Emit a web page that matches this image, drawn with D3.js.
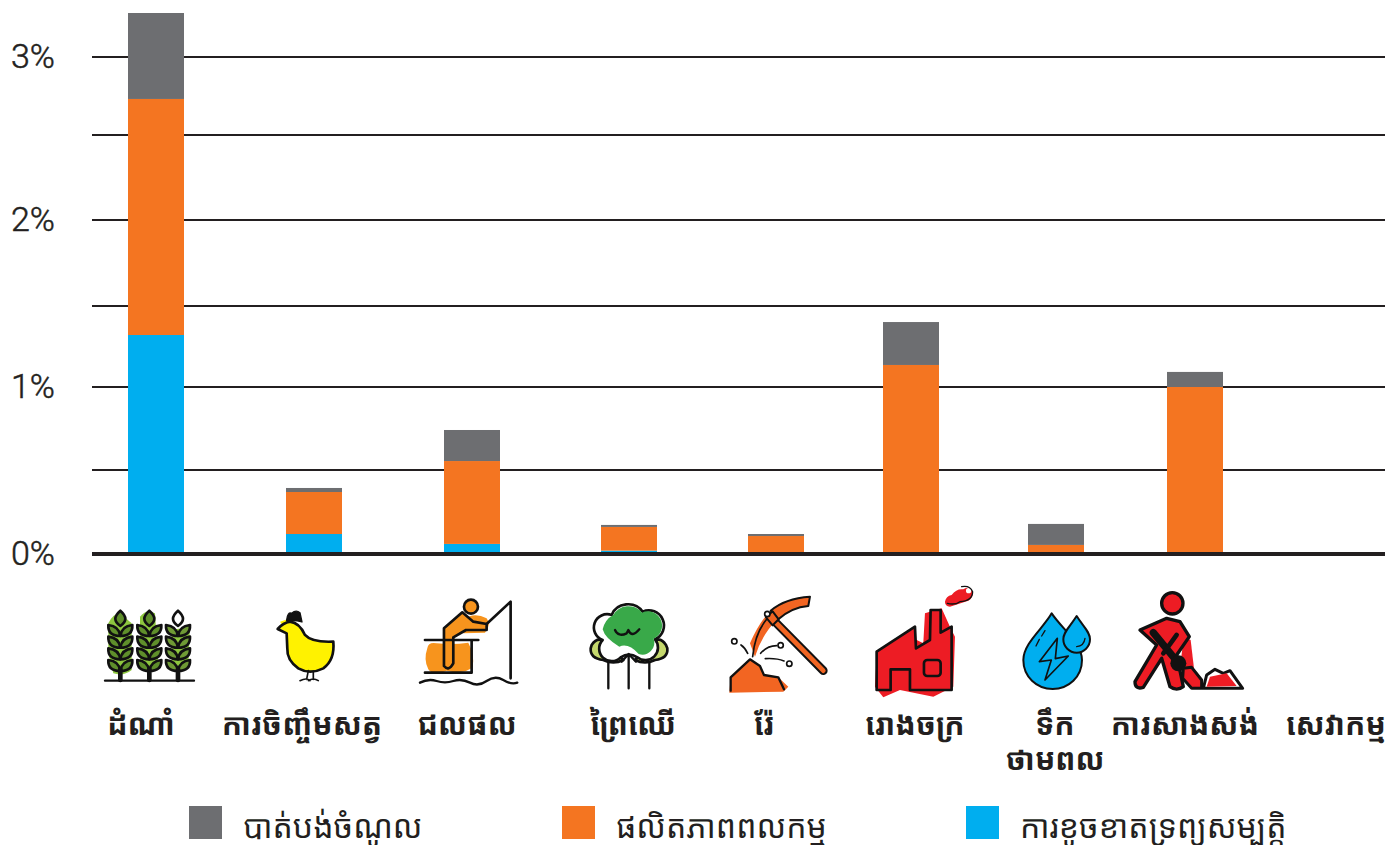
<!DOCTYPE html>
<html>
<head>
<meta charset="utf-8">
<title>Chart</title>
<script src="https://cdn.jsdelivr.net/npm/d3@7"></script>
<style>
html, body { margin: 0; padding: 0; background: #fff; overflow: hidden; }
svg { display: block; }
.khmer { font-family: "Noto Sans Khmer", "Khmer OS", "Noto Sans", "DejaVu Sans", sans-serif; fill: #231f20; }
</style>
</head>
<body>
<svg id="chart" width="1385" height="845"></svg>
<script>
// Data
var categories = ['ដំណាំ', 'ការចិញ្ចឹមសត្វ', 'ជលផល', 'ព្រៃឈើ', 'រ៉ែ', 'រោងចក្រ', 'ទឹកថាមពល', 'ការសាងសង់', 'សេវាកម្ម'];
var damage = [1.321, 0.119, 0.06, 0.02, 0, 0, 0, 0, 0];
var productivity = [1.41, 0.25, 0.494, 0.141, 0.107, 1.136, 0.054, 1.0, 0];
var income = [0.551, 0.024, 0.187, 0.012, 0.012, 0.265, 0.125, 0.093, 0];
var gridTicks = [0, 0.5, 1, 1.5, 2, 2.5, 3];
var tickLabels = [0, 1, 2, 3];
var seriesNames = ['បាត់បង់ចំណូល', 'ផលិតភាពពលកម្ម', 'ការខូចខាតទ្រព្យសម្បត្តិ'];
var categoryLines = [['ដំណាំ'], ['ការចិញ្ចឹមសត្វ'], ['ជលផល'], ['ព្រៃឈើ'], ['រ៉ែ'], ['រោងចក្រ'], ['ទឹក', 'ថាមពល'], ['ការសាងសង់'], ['សេវាកម្ម']];

var svg = d3.select('#chart');
var ink = '#231f20';

// Columns are not evenly spaced in the original, so an ordinal scale holds the centres
var x = d3.scaleOrdinal().domain(categories).range([156, 314, 472, 629, 776, 911, 1056, 1195, 1336]);
var labelX = d3.scaleOrdinal().domain(categories).range([141, 302, 467, 633, 764, 915, 1055, 1185, 1336]);
// Gridlines are slightly uneven too
var y = d3.scaleLinear().domain(gridTicks).range([554, 470, 387, 306, 220, 135, 57]);
var color = d3.scaleOrdinal().domain(['income', 'productivity', 'damage']).range(['#6d6e71', '#f47521', '#00aeef']);
var barWidth = 56;

// Grid
svg.append('g').selectAll('line')
    .data(gridTicks.filter(d => d > 0))
    .enter().append('line')
    .attr('x1', 92).attr('x2', 1385)
    .attr('y1', d => y(d)).attr('y2', d => y(d))
    .style('stroke', ink).style('stroke-width', 2);

// Stacked bars
var rows = categories.map((c, i) => ({ category: c, damage: damage[i], productivity: productivity[i], income: income[i] }));
var stacked = d3.stack().keys(['damage', 'productivity', 'income'])(rows);

svg.append('g').selectAll('g')
    .data(stacked)
    .enter().append('g')
    .attr('fill', d => color(d.key))
    .selectAll('rect')
    .data(d => d)
    .enter().append('rect')
    .attr('x', d => x(d.data.category) - barWidth / 2)
    .attr('width', barWidth)
    .attr('y', d => y(d[1]))
    .attr('height', d => y(d[0]) - y(d[1]));

// Baseline
svg.append('line')
    .attr('x1', 92).attr('x2', 1385)
    .attr('y1', y(0)).attr('y2', y(0))
    .style('stroke', ink).style('stroke-width', 4);

// Y labels
svg.append('g').selectAll('text')
    .data(tickLabels)
    .enter().append('text')
    .attr('x', 11)
    .attr('y', d => y(d) - 1)
    .attr('dy', '.36em')
    .style('font-family', 'Roboto, sans-serif')
    .style('font-weight', 300)
    .style('font-size', '34px')
    .style('fill', ink)
    .style('stroke', ink)
    .style('stroke-width', 0.5)
    .text(d => d + '%');

// Category labels
var catText = svg.append('g').selectAll('text')
    .data(categories)
    .enter().append('text')
    .attr('class', 'khmer')
    .attr('text-anchor', 'middle')
    .attr('y', 735)
    .style('font-size', '30px')
    .style('font-weight', 700);
catText.selectAll('tspan')
    .data((d, i) => categoryLines[i].map(t => ({ t: t, c: d })))
    .enter().append('tspan')
    .attr('x', d => labelX(d.c))
    .attr('dy', (d, i) => i ? 35 : 0)
    .text(d => d.t);

// Legend
var legendX = [189, 562, 966];
var legendColors = ['income', 'productivity', 'damage'];
var legend = svg.append('g').selectAll('g')
    .data(seriesNames)
    .enter().append('g')
    .attr('transform', (d, i) => 'translate(' + legendX[i] + ',806)');
legend.append('rect')
    .attr('width', 33).attr('height', 33)
    .attr('fill', (d, i) => color(legendColors[i]));
legend.append('text')
    .attr('class', 'khmer')
    .attr('x', 54).attr('y', 32)
    .style('font-size', '32px')
    .text(d => d);

// Icons, traced at 3x so the coordinates are in crop pixels
function iconGroup(ox, oy) {
    return svg.append('g')
        .attr('transform', 'translate(' + ox + ',' + oy + ') scale(0.3333)')
        .style('stroke-linejoin', 'round')
        .style('stroke-linecap', 'round');
}
function shape(g, d, fill, sw) {
    return g.append('path').attr('d', d)
        .style('fill', fill || 'none')
        .style('stroke', sw === 0 ? 'none' : '#111')
        .style('stroke-width', sw === undefined ? 8 : sw);
}

// wheat
var left = iconGroup(90, 580);
shape(left, 'M55,130 Q70,100 90,100 L125,130 L125,270 Q100,290 70,280 L55,220Z', '#8dc63f', 0);
shape(left, 'M150,110 Q170,85 195,100 L205,260 L150,270Z', '#8dc63f', 0);
shape(left, 'M245,150 L300,140 L295,260 Q270,280 245,270Z', '#8dc63f', 0);
[91, 178, 264].forEach(function (cx, k) {
    var leaf = k === 2 ? '#6f9a35' : '#5f8f2b';
    shape(left, 'M' + cx + ',92 Q' + (cx + 30) + ',118 ' + cx + ',138 Q' + (cx - 30) + ',118 ' + cx + ',92Z', k === 2 ? '#fff' : leaf);
    [150, 185, 220, 255].forEach(function (ly) {
        shape(left, 'M' + cx + ',' + (ly + 18) + ' Q' + (cx - 4) + ',' + (ly - 12) + ' ' + (cx - 36) + ',' + (ly - 15) + ' Q' + (cx - 38) + ',' + (ly + 18) + ' ' + cx + ',' + (ly + 18) + 'Z', leaf);
        shape(left, 'M' + cx + ',' + (ly + 18) + ' Q' + (cx + 4) + ',' + (ly - 12) + ' ' + (cx + 36) + ',' + (ly - 15) + ' Q' + (cx + 38) + ',' + (ly + 18) + ' ' + cx + ',' + (ly + 18) + 'Z', leaf);
    });
    shape(left, 'M' + cx + ',268 V300', null, 14);
});
shape(left, 'M45,302 H312', null, 7);

// chicken
shape(left, 'M570,125 L592,118 L592,155 Z', '#fff200', 0);
shape(left, 'M590,120 Q593,95 605,100 Q618,88 630,98 L636,126 Q615,118 590,122Z', '#111', 4);
shape(left, 'M563,147 Q580,128 600,125 Q628,128 645,165 Q665,188 730,185 Q735,240 700,265 Q660,285 625,265 Q590,240 592,205 L590,160 Z', '#fff200');
shape(left, 'M655,272 L650,298 M670,274 L670,298 M630,302 Q650,292 660,302 M655,302 Q670,292 685,302', null, 5);

// fisher
shape(left, 'M1012,205 Q1015,185 1040,190 Q1090,195 1135,188 Q1155,225 1148,262 Q1120,285 1070,272 Q1030,290 1015,268 Q1000,240 1012,205Z', '#f7941d', 0);
shape(left, 'M1120,120 Q1150,95 1190,115 Q1205,135 1185,158 L1120,160Z', '#f7941d', 0);
left.append('circle').attr('cx', 1143).attr('cy', 80).attr('r', 21).style('fill', '#f7941d').style('stroke', '#111').style('stroke-width', 8);
shape(left, 'M1062,258 L1062,145 L1117,97 L1150,125 L1190,132 L1190,150 L1128,150 L1090,172 L1090,250 Q1076,275 1062,258Z', '#f7941d');
shape(left, 'M1005,180 H1165 M1005,278 H1145 V180', null, 8);
shape(left, 'M1190,132 L1262,65 V295', null, 8);
shape(left, 'M990,308 Q1015,295 1040,303 T1090,303 T1140,308 T1190,303 T1240,300 T1282,308', null, 7);

// tree
var mid = iconGroup(560, 580);
shape(mid, 'M95,195 Q110,172 130,182 L190,240 Q160,255 130,240 Q90,235 92,205Z', '#c5d86d');
shape(mid, 'M318,195 Q303,172 285,182 L225,240 Q255,255 285,240 Q325,235 322,205Z', '#c5d86d');
shape(mid, 'M155,105 A52,48 0 0 1 248,95 A42,42 0 0 1 285,178 A38,38 0 0 1 232,232 Q207,215 182,232 A36,36 0 0 1 128,180 A34,34 0 0 1 155,105Z', '#fff');
shape(mid, 'M160,105 A50,46 0 0 1 246,98 A40,40 0 0 1 281,176 A36,36 0 0 1 236,222 Q205,188 178,200 Q135,175 128,148 Q135,118 160,105Z', '#39a949', 0);
shape(mid, 'M165,150 Q175,172 200,160 Q205,150 205,150 Q215,175 238,148', null, 7);
shape(mid, 'M145,248 V325 M206,225 V325 M268,248 V325 M185,245 L206,222 L228,245', null, 7);

// mining
shape(mid, 'M570,190 Q600,120 635,90 L650,120 Q605,165 585,230Z', '#f26522', 0);
shape(mid, 'M508,338 L512,292 L570,238 L600,260 L612,285 L655,292 L685,320 L670,335Z', '#f26522', 0);
shape(mid, 'M512,332 V292 L570,238 L600,258 L612,285 L655,292 L672,328', null, 7);
shape(mid, 'M578,230 Q585,160 620,118', null, 5);
shape(mid, 'M640,120 L790,272', null, 26);
shape(mid, 'M640,120 L790,272', null, 0).style('stroke', '#f26522').style('stroke-width', 14);
shape(mid, 'M632,92 Q675,55 750,50 L745,78 Q695,82 655,118Z', '#f26522', 6);
shape(mid, 'M618,112 L638,94 L656,118 L638,136Z', '#f26522', 6);
mid.append('circle').attr('cx', 622).attr('cy', 102).attr('r', 8).style('fill', '#fff').style('stroke', '#111').style('stroke-width', 5);
[[523, 184], [662, 196], [688, 251]].forEach(function (c) {
    mid.append('circle').attr('cx', c[0]).attr('cy', c[1]).attr('r', 8).style('fill', '#fff').style('stroke', '#111').style('stroke-width', 5);
});
shape(mid, 'M543,195 Q555,203 563,220 M602,220 Q620,198 650,197 M616,236 Q650,234 672,243', null, 5);

// factory
shape(mid, 'M1095,100 L1145,85 L1170,140 L1185,170 L1180,320 L1120,350 L1020,330 L970,352 L945,320 L950,220 L1040,165 L1090,190Z', '#ed1c24', 0);
shape(mid, 'M950,330 V215 L1065,140 L1068,205 L1110,180 L1112,90 L1142,90 L1142,158 L1175,140 V330 H1050 V268 H992 V330Z', '#ed1c24');
mid.append('rect').attr('x', 1092).attr('y', 240).attr('width', 50).attr('height', 48).attr('rx', 10).style('fill', '#ed1c24').style('stroke', '#111').style('stroke-width', 8);
shape(mid, 'M1155,65 Q1158,48 1175,45 Q1190,25 1210,28 Q1225,15 1238,35 Q1240,55 1225,62 L1170,80 Q1155,78 1155,65Z', '#ed1c24', 0);
mid.append('circle').attr('cx', 1226).attr('cy', 32).attr('r', 8).style('fill', '#fff');
shape(mid, 'M1162,70 Q1185,76 1200,65 Q1238,62 1238,35 Q1230,15 1205,20', null, 4);

// water
var right = iconGroup(980, 580);
shape(right, 'M215,100 C190,145 130,190 130,240 C130,290 170,327 218,327 C266,327 306,290 306,240 C306,190 245,145 215,100Z', '#00aeef', 6);
shape(right, 'M290,108 C270,140 250,155 250,178 C250,200 268,218 290,218 C312,218 330,200 330,178 C330,155 310,140 290,108Z', '#00aeef', 6);
shape(right, 'M232,175 L178,245 L214,240 L195,300 L265,228 L226,236Z', '#00aeef', 5);
shape(right, 'M195,152 L185,168 M178,178 L168,198 M290,200 Q312,198 315,175', null, 4);

// construction worker
shape(right, 'M490,270 L530,200 L560,225 L510,290Z', '#ed1c24', 0);
shape(right, 'M612,170 L632,180 L642,265 L620,300 L600,260Z', '#ed1c24', 0);
right.append('circle').attr('cx', 577).attr('cy', 70).attr('r', 32).style('fill', '#ed1c24').style('stroke', '#111').style('stroke-width', 10);
shape(right, 'M480,150 L560,115 L600,125 L628,170 L590,225 L610,320 Q590,335 570,320 L545,235 L490,322 Q465,330 465,305 L530,195Z', '#ed1c24', 10);
shape(right, 'M520,158 L600,255', null, 22);
shape(right, 'M590,165 L550,220', null, 14);
right.append('circle').attr('cx', 595).attr('cy', 250).attr('r', 24).style('fill', '#111');
shape(right, 'M610,265 L635,262 L665,300 L665,325 H635 L608,295Z', '#ed1c24', 9);
shape(right, 'M670,325 L680,285 L705,268 L730,280 L750,272 L788,325Z', '#fff', 9);
shape(right, 'M680,320 L690,290 L740,280 L770,318Z', '#ed1c24', 0);
</script>
</body>
</html>
